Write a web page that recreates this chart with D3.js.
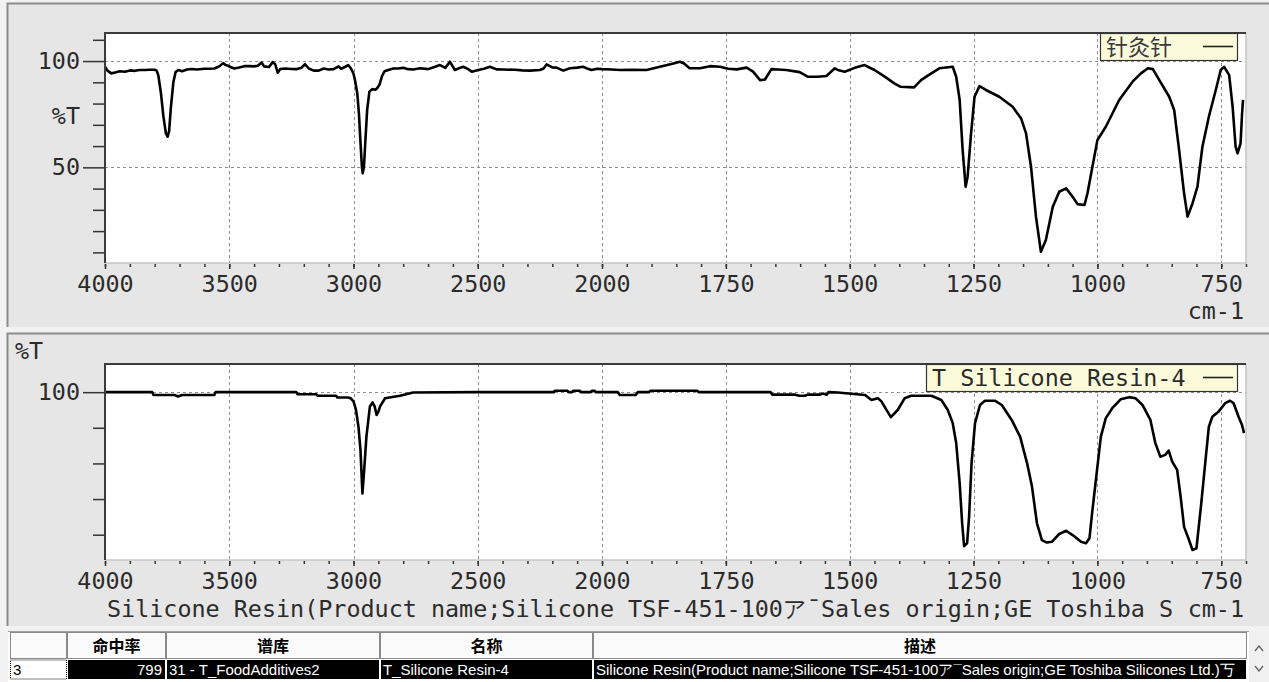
<!DOCTYPE html>
<html>
<head>
<meta charset="utf-8">
<script src="https://cdn.jsdelivr.net/npm/d3@7"></script>
<style>
  html, body { margin: 0; padding: 0; background: #f2f2f2; overflow: hidden; }
  svg { display: block; }
</style>
</head>
<body>
<svg id="chart" width="1269" height="682"></svg>
<script>
// ---- Sample spectrum (upper panel): wavenumber (cm-1) and transmittance (%T)
const sampleWavenumber = [
  4000,3990,3975,3960,3940,3920,3900,3880,3860,3840,3820,3800,3792,3785,3775,3765,3755,3748,3742,3735,
  3725,3716,3705,3690,3670,3650,3630,3600,3580,3560,3540,3525,3515,3505,3495,3480,3460,3440,3420,3400,
  3385,3370,3360,3340,3325,3315,3305,3295,3275,3250,3230,3210,3195,3180,3160,3140,3120,3100,3080,3060,
  3050,3035,3021,3010,3000,2994,2985,2978,2972,2966,2963,2958,2952,2945,2936,2925,2912,2905,2895,2885,
  2875,2860,2840,2820,2800,2780,2760,2732,2700,2680,2652,2630,2612,2592,2575,2559,2540,2524,2498,2475,
  2451,2424,2400,2350,2320,2290,2250,2235,2223,2200,2183,2156,2129,2100,2076,2060,2042,2020,2000,1980,
  1964,1940,1910,1883,1856,1843,1835,1823,1802,1782,1762,1745,1728,1708,1695,1681,1671,1658,1645,1628,
  1601,1584,1565,1547,1530,1524,1510,1490,1470,1450,1430,1410,1397,1370,1356,1340,1319,1292,1285,1278,
  1272,1266,1262,1255,1248,1238,1225,1198,1171,1154,1144,1134,1124,1114,1104,1090,1077,1063,1050,1040,
  1026,1020,1010,1000,983,956,929,912,898,888,875,855,845,835,825,818,808,798,788,775,
  761,751,744,734,727,721,717,711,708,706
];
const sampleTransmittance = [
  97.3,95.5,94.2,94.6,95.2,95.0,95.6,95.4,95.8,95.8,95.9,95.9,95.5,93.0,85.0,74.0,66.0,64.4,67.0,78.0,
  90.0,94.8,95.8,95.2,96.0,96.3,96.0,96.4,96.4,96.5,97.5,99.0,98.2,97.8,97.2,96.5,97.0,97.6,97.6,97.5,
  97.8,99.3,97.5,97.2,99.5,98.5,94.5,96.3,96.5,96.3,96.2,96.8,98.5,96.5,95.5,95.5,96.5,96.0,96.2,97.5,
  96.4,97.2,98.1,96.5,94.0,91.0,85.0,75.0,62.0,50.0,47.2,50.0,63.0,77.0,85.6,86.8,86.5,87.2,89.0,93.0,
  95.2,95.8,96.5,96.5,96.8,96.2,96.0,96.6,96.2,97.0,98.1,96.8,99.7,95.8,96.6,97.3,96.3,95.0,95.8,96.4,
  97.3,96.1,96.0,95.9,95.6,95.5,95.8,96.5,98.4,97.0,96.9,95.5,96.6,96.9,97.3,96.5,95.8,96.4,96.2,96.0,
  95.8,95.9,95.8,97.3,98.9,99.7,99.0,96.6,96.6,97.6,97.3,96.4,96.1,96.9,95.0,91.0,91.3,96.2,96.0,95.8,
  94.8,92.6,92.6,93.0,96.6,95.8,95.0,96.8,98.1,95.8,92.8,89.5,87.9,87.6,91.0,93.5,96.6,97.3,92.6,81.7,
  58.1,40.9,45.6,66.0,83.2,88.2,86.4,83.2,78.5,73.0,66.0,50.3,26.8,10.3,15.8,31.5,38.5,40.1,36.2,32.7,
  32.3,37.8,50.3,62.8,69.1,81.7,90.3,94.2,96.6,96.2,91.0,83.2,77.0,58.1,37.8,26.8,33.0,40.9,59.7,73.8,
  86.4,95.8,97.3,93.4,78.5,59.7,56.6,61.3,75.0,81.7
];

// ---- Library spectrum (lower panel): T Silicone Resin-4
const libraryWavenumber = [
  4000,3810,3805,3720,3706,3690,3560,3555,3230,3225,3150,3145,3070,3065,3021,3010,3000,2990,2980,2972,
  2964,2957,2948,2934,2923,2915,2907,2900,2893,2873,2813,2760,2500,2194,2190,2140,2135,2120,2115,2090,
  2085,2045,2040,2030,2025,1968,1964,1932,1928,1905,1902,1808,1805,1660,1656,1610,1602,1590,1585,1560,
  1555,1546,1543,1524,1469,1456,1443,1436,1417,1403,1389,1376,1335,1315,1302,1292,1285,1278,1273,1269,
  1263,1259,1254,1247,1237,1227,1207,1193,1173,1156,1142,1132,1122,1112,1102,1092,1077,1063,1050,1033,
  1023,1016,1010,1003,993,983,970,953,936,923,909,893,883,873,863,856,849,839,832,825,
  815,808,800,791,781,775,768,755,742,732,725,715,708,704
];
const libraryTransmittance = [
  100,100,99.2,99.2,98.8,99.2,99.2,100,100,99.4,99.4,99.0,99.0,98.5,98.5,98.2,97.4,95.0,90.3,83.8,
  71.6,78.2,87.5,96.0,97.1,96.0,93.6,94.5,96.0,98.3,99.0,99.9,100,100,100.4,100.4,100,100,100.4,100.4,
  100,100,100.4,100.4,100,100,99.2,99.2,100,100,100.4,100.4,100,100,99.3,99.3,99.0,99.0,99.3,99.3,
  99.6,99.3,100,99.9,99.2,97.8,98.3,97.4,93.0,95.0,98.3,99.0,99.0,97.8,95.0,91.3,85.7,74.4,63.2,56.8,
  57.6,65.0,80.1,91.3,96.4,97.6,97.6,96.4,92.2,87.5,80.1,73.5,63.2,58.5,57.8,58.0,60.2,61.1,59.9,58.0,
  57.6,59.0,66.9,75.4,87.5,92.7,95.5,98.0,98.6,98.3,96.4,92.2,85.7,81.9,82.4,83.6,80.5,78.2,70.7,62.2,
  58.5,55.7,56.2,67.9,81.9,90.3,93.1,94.6,96.9,97.6,96.9,93.1,90.8,88.5
];

// ---- Axis ticks
const xMajorTicks = [4000, 3500, 3000, 2500, 2000, 1750, 1500, 1250, 1000, 750];
const xMinorTicks = d3.range(4000, 2000, -100).concat(d3.range(2000, 699, -50));
const sampleYMinor = [10, 20, 30, 40, 60, 70, 80, 90, 110];
const sampleYMajor = [50, 100];
const libraryYMinor = [60, 70, 80, 90];
const libraryYMajor = [100];

// ---- Texts
const sampleLegend = "针灸针";
const libraryLegend = "T Silicone Resin-4";
const libraryCaption = "Silicone Resin(Product name;Silicone TSF-451-100ア¯Sales origin;GE Toshiba S";
const unitLabel = "cm-1";
const yLabel = "%T";

// ---- Hit list table
const tableHeaders = ["", "命中率", "谱库", "名称", "描述"];
const tableRow = ["3", "799", "31 - T_FoodAdditives2", "T_Silicone Resin-4",
  "Silicone Resin(Product name;Silicone TSF-451-100ア¯Sales origin;GE Toshiba Silicones Ltd.)丂"];

// ================= drawing =================
const W = 1269, H = 682;
const MONO = "'DejaVu Sans Mono', monospace";
const CJK = "'Noto Sans CJK SC', sans-serif";
const SANS = "'Liberation Sans', Arial, sans-serif";
const INK = "#2b2b2b";
const FS = 23.4;

const svg = d3.select("#chart");
svg.append("rect").attr("width", W).attr("height", H).attr("fill", "#f2f2f2");

function panel(y0, y1) {
  svg.append("rect").attr("x", 7).attr("y", y0).attr("width", W - 7).attr("height", y1 - y0)
    .attr("fill", "#e6e6e6");
  svg.append("path").attr("d", `M7.5,${y1}V${y0 + 0.5}H${W}`)
    .attr("fill", "none").attr("stroke", "#8a8a8a").attr("stroke-width", 2);
}
panel(3, 327);
panel(333, 626);

const plotL = 105, plotR = 1246;
// Wavenumber axis with 2x expansion below 2000 cm-1
const x = d3.scaleLinear().domain([4000, 2000, 700]).range([105, 602, 1246]);

function drawPlot(cfg) {
  const { id, top, bottom, yDomain, yMinor, yMajor, wn, tr, labelGap } = cfg;
  const y = d3.scaleLinear().domain(yDomain).range([bottom, top]);
  const g = svg.append("g");

  g.append("rect").attr("x", plotL).attr("y", top).attr("width", plotR - plotL)
    .attr("height", bottom - top).attr("fill", "#fff");

  // dashed grid
  const grid = g.append("g").attr("stroke", "#8e8e8e").attr("stroke-width", 1)
    .attr("stroke-dasharray", "3,3");
  grid.selectAll("line.gv").data(xMajorTicks.slice(1)).join("line").attr("class", "gv")
    .attr("x1", d => Math.round(x(d)) + 0.5).attr("x2", d => Math.round(x(d)) + 0.5)
    .attr("y1", top).attr("y2", bottom);
  grid.selectAll("line.gh").data(yMajor).join("line").attr("class", "gh")
    .attr("x1", plotL).attr("x2", plotR)
    .attr("y1", d => Math.round(y(d)) + 0.5).attr("y2", d => Math.round(y(d)) + 0.5);

  // spectrum
  svg.append("clipPath").attr("id", id).append("rect")
    .attr("x", plotL).attr("y", top).attr("width", plotR - plotL).attr("height", bottom - top);
  g.append("path").datum(d3.zip(wn, tr))
    .attr("clip-path", `url(#${id})`)
    .attr("fill", "none").attr("stroke", "#000").attr("stroke-width", 2.6)
    .attr("stroke-linejoin", "round")
    .attr("d", d3.line().x(d => x(d[0])).y(d => y(d[1])));

  // frame: dark top/left, light bottom/right
  g.append("path").attr("d", `M${plotR},${top}V${bottom}H${plotL}`)
    .attr("fill", "none").attr("stroke", "#c6c6c6").attr("stroke-width", 1.5);
  g.append("path").attr("d", `M${plotL},${bottom}V${top}H${plotR}`)
    .attr("fill", "none").attr("stroke", "#3c3c3c").attr("stroke-width", 2);

  // x axis
  const axMinor = g.append("g").attr("transform", `translate(0,${bottom + 1})`)
    .call(d3.axisBottom(x).tickValues(xMinorTicks).tickSize(3).tickFormat(""));
  const axMajor = g.append("g").attr("transform", `translate(0,${bottom + 1})`)
    .call(d3.axisBottom(x).tickValues(xMajorTicks).tickSize(5).tickPadding(labelGap)
      .tickFormat(d3.format("d")));
  [axMinor, axMajor].forEach(a => {
    a.select(".domain").remove();
    a.selectAll("line").attr("stroke", "#333").attr("stroke-width", 1.5);
  });
  axMajor.selectAll("text").attr("font-family", MONO).attr("font-size", FS).attr("fill", INK);

  // y axis
  const ayMinor = g.append("g").attr("transform", `translate(${plotL},0)`)
    .call(d3.axisLeft(y).tickValues(yMinor).tickSize(12).tickFormat(""));
  const ayMajor = g.append("g").attr("transform", `translate(${plotL},0)`)
    .call(d3.axisLeft(y).tickValues(yMajor).tickSize(22).tickPadding(3).tickFormat(d3.format("d")));
  [ayMinor, ayMajor].forEach(a => {
    a.select(".domain").remove();
    a.selectAll("line").attr("stroke", "#333").attr("stroke-width", 1.5);
  });
  ayMajor.selectAll("text").attr("font-family", MONO).attr("font-size", FS).attr("fill", INK);
  return { g, y };
}

// ---- upper panel (sample)
const upper = drawPlot({
  id: "clipSample", top: 33, bottom: 263, yDomain: [5, 113.2],
  yMinor: sampleYMinor, yMajor: sampleYMajor,
  wn: sampleWavenumber, tr: sampleTransmittance, labelGap: 6
});
upper.g.append("text").attr("x", 80).attr("y", 124).attr("text-anchor", "end")
  .attr("font-family", MONO).attr("font-size", FS).attr("fill", INK).text(yLabel);
upper.g.append("text").attr("x", 1244).attr("y", 319).attr("text-anchor", "end")
  .attr("font-family", MONO).attr("font-size", FS).attr("fill", INK).text(unitLabel);

// legend box (upper)
upper.g.append("rect").attr("x", 1100.5).attr("y", 33.5).attr("width", 137).attr("height", 27)
  .attr("fill", "#fbfbdb").attr("stroke", "#333").attr("stroke-width", 1.2);
upper.g.append("text").attr("x", 1106).attr("y", 55).attr("font-family", CJK)
  .attr("font-size", 22).attr("fill", "#3a3a3a").text(sampleLegend);
upper.g.append("line").attr("x1", 1203).attr("x2", 1233).attr("y1", 46.5).attr("y2", 46.5)
  .attr("stroke", "#222").attr("stroke-width", 1.6);

// ---- lower panel (library match)
const lower = drawPlot({
  id: "clipLibrary", top: 364, bottom: 560, yDomain: [52.9, 107.9],
  yMinor: libraryYMinor, yMajor: libraryYMajor,
  wn: libraryWavenumber, tr: libraryTransmittance, labelGap: 6.5
});
lower.g.append("text").attr("x", 15).attr("y", 359)
  .attr("font-family", MONO).attr("font-size", FS).attr("fill", INK).text(yLabel);
lower.g.append("text").attr("x", 107).attr("y", 617)
  .attr("font-family", MONO).attr("font-size", FS).attr("fill", INK).text(libraryCaption);
lower.g.append("text").attr("x", 1244).attr("y", 617).attr("text-anchor", "end")
  .attr("font-family", MONO).attr("font-size", FS).attr("fill", INK).text(unitLabel);

lower.g.append("rect").attr("x", 926.5).attr("y", 364.5).attr("width", 311).attr("height", 27)
  .attr("fill", "#fbfbdb").attr("stroke", "#333").attr("stroke-width", 1.2);
lower.g.append("text").attr("x", 932).attr("y", 386).attr("font-family", MONO)
  .attr("font-size", FS).attr("fill", INK).text(libraryLegend);
lower.g.append("line").attr("x1", 1203).attr("x2", 1233).attr("y1", 377.5).attr("y2", 377.5)
  .attr("stroke", "#222").attr("stroke-width", 1.6);

// ---- hit list table
const colX = [10, 67, 166, 380, 593, 1247];
const headTop = 632, headBot = 659, rowBot = 679;
const tbl = svg.append("g");
tbl.append("rect").attr("x", 8).attr("y", headTop - 1).attr("width", 1241).attr("height", H - headTop + 1)
  .attr("fill", "#ffffff");
tbl.append("line").attr("x1", 8).attr("x2", 1249).attr("y1", headTop - 0.5).attr("y2", headTop - 0.5)
  .attr("stroke", "#a0a0a0");

const cols = d3.range(5).map(i => ({ i, x0: colX[i], x1: colX[i + 1] }));
tbl.selectAll("rect.hd").data(cols).join("rect").attr("class", "hd")
  .attr("x", d => d.x0 + 0.5).attr("y", headTop + 0.5)
  .attr("width", d => d.x1 - d.x0 - 1).attr("height", headBot - headTop - 1)
  .attr("fill", "#fbfbfb").attr("stroke", "#8a8a8a");
tbl.selectAll("text.hd").data(cols).join("text").attr("class", "hd")
  .attr("x", d => (d.x0 + d.x1) / 2).attr("y", 652).attr("text-anchor", "middle")
  .attr("font-family", CJK).attr("font-weight", "bold").attr("font-size", 16).attr("fill", "#000")
  .text(d => tableHeaders[d.i]);

tbl.selectAll("rect.rw").data(cols).join("rect").attr("class", "rw")
  .attr("x", d => d.x0 + (d.i === 0 ? 0.5 : 1)).attr("y", headBot + 1)
  .attr("width", d => d.x1 - d.x0 - (d.i === 0 ? 1 : 2)).attr("height", rowBot - headBot - 1)
  .attr("fill", d => d.i === 0 ? "#fff" : "#000")
  .attr("stroke", d => d.i === 0 ? "#000" : "none")
  .attr("stroke-dasharray", d => d.i === 0 ? "1,1" : null);
tbl.selectAll("text.rw").data(cols).join("text").attr("class", "rw")
  .attr("x", d => d.i === 1 ? d.x1 - 4 : d.x0 + 3)
  .attr("y", 675)
  .attr("text-anchor", d => d.i === 1 ? "end" : "start")
  .attr("font-family", SANS).attr("font-size", 15)
  .attr("fill", d => d.i === 0 ? "#000" : "#fff")
  .text(d => tableRow[d.i]);

// scrollbar
tbl.append("rect").attr("x", 1249).attr("y", headTop - 1).attr("width", 20).attr("height", H - headTop + 1)
  .attr("fill", "#f0f0f0");
tbl.append("path").attr("d", "M1255,651 L1259,646 L1263,651").attr("fill", "none")
  .attr("stroke", "#606060").attr("stroke-width", 1.3);
tbl.append("path").attr("d", "M1255,666 L1259,671 L1263,666").attr("fill", "none")
  .attr("stroke", "#606060").attr("stroke-width", 1.3);
</script>
</body>
</html>
